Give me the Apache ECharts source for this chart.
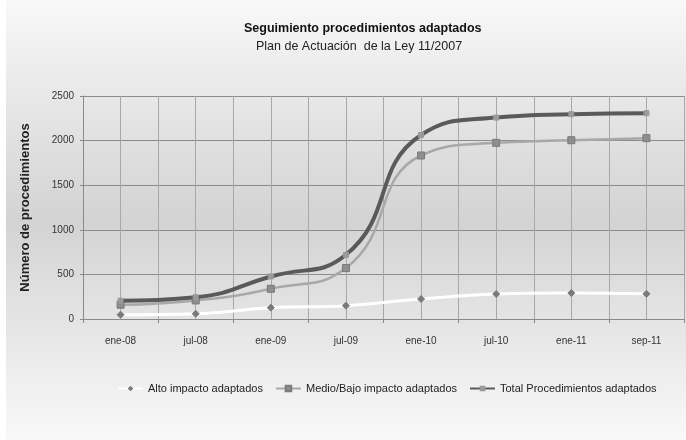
<!DOCTYPE html>
<html><head><meta charset="utf-8">
<script src="https://cdn.jsdelivr.net/npm/echarts@6/dist/echarts.min.js"></script>
<style>html,body{margin:0;padding:0;background:#fff}#c{width:686px;height:440px}</style>
</head><body><div id="c"></div>
<script>
var categories = ['ene-08','jul-08','ene-09','jul-09','ene-10','jul-10','ene-11','sep-11'];
var altoImpacto = [48, 59, 127, 149, 224, 280, 291, 282];
var medioBajo = [160, 208, 339, 571, 1833, 1975, 2004, 2027];
var totalProc = [205, 245, 477, 720, 2063, 2258, 2296, 2307];
var yTicks = [0, 500, 1000, 1500, 2000, 2500];
var halfSlots = ['','','','','','','','','','','','','','','',''];

var font = 'Liberation Sans';
var chart = echarts.init(document.getElementById('c'), null, {renderer:'canvas'});
chart.setOption({
  animation: false,
  backgroundColor: '#ffffff',
  graphic: [{
    type: 'rect', left: 6, top: 0, z: -100, silent: true,
    shape: {width: 680, height: 440},
    style: {fill: new echarts.graphic.LinearGradient(0,0,0,1,[
      {offset:0, color:'#f8f8f8'},
      {offset:0.5, color:'#d3d3d3'},
      {offset:1, color:'#f9f9f9'}
    ])}
  }],
  title: [
    {text: 'Seguimiento procedimientos adaptados', left: 239, top: 17,
     textStyle: {fontFamily: font, fontWeight: 'bold', fontSize: 12.5, color: '#111'}},
    {text: 'Plan de Actuación  de la Ley 11/2007', left: 251, top: 35,
     textStyle: {fontFamily: font, fontWeight: 'normal', fontSize: 12.5, color: '#222'}}
  ],
  legend: {
    left: 112, top: 378, itemGap: 12, itemWidth: 25, itemHeight: 7,
    textStyle: {fontFamily: font, fontSize: 11, color: '#222'},
    data: ['Alto impacto adaptados','Medio/Bajo impacto adaptados','Total Procedimientos adaptados']
  },
  grid: {left: 83, right: 2, top: 96, bottom: 121},
  xAxis: [{
    type: 'category', data: categories, boundaryGap: true,
    axisLine: {lineStyle: {color: '#8a8a8a', width: 1}},
    axisTick: {show: true, length: 4, lineStyle: {color: '#8a8a8a'}},
    axisLabel: {fontFamily: font, fontSize: 10, color: '#333', margin: 17},
    splitLine: {show: false}
  }, {
    type: 'category', data: halfSlots, boundaryGap: true, position: 'bottom',
    axisLine: {show: false}, axisTick: {show: false}, axisLabel: {show: false},
    splitLine: {show: true, lineStyle: {color: '#a8a8a8', width: 1}}
  }],
  yAxis: {
    type: 'value', min: 0, max: 2500, interval: 500,
    name: 'Número de procedimientos', nameLocation: 'middle', nameGap: 51,
    nameTextStyle: {fontFamily: font, fontWeight: 'bold', fontSize: 13, color: '#222'},
    axisLine: {show: true, lineStyle: {color: '#8a8a8a'}},
    axisTick: {show: true, length: 3, lineStyle: {color: '#8a8a8a'}},
    axisLabel: {fontFamily: font, fontSize: 10, color: '#333', margin: 9,
      formatter: function(v){ return yTicks.indexOf(v) >= 0 ? String(v) : ''; }},
    splitLine: {show: true, lineStyle: {color: '#8c8c8c', width: 1}}
  },
  series: [{
    name: 'Alto impacto adaptados', type: 'line', data: altoImpacto, smooth: 0.4,
    symbol: 'diamond', symbolSize: 7, z: 3,
    lineStyle: {color: '#ffffff', width: 3},
    itemStyle: {color: '#7a7a7a', borderColor: '#7a7a7a'}
  }, {
    name: 'Medio/Bajo impacto adaptados', type: 'line', data: medioBajo, smooth: 0.5,
    symbol: 'rect', symbolSize: 7, z: 4,
    lineStyle: {color: '#a8a8a8', width: 2.5},
    itemStyle: {color: '#8e8e8e', borderColor: '#7a7a7a', borderWidth: 1}
  }, {
    name: 'Total Procedimientos adaptados', type: 'line', data: totalProc, smooth: 0.5,
    symbol: 'rect', symbolSize: 5, z: 5,
    lineStyle: {color: '#5a5a5a', width: 4},
    itemStyle: {color: '#9a9a9a', borderColor: '#9a9a9a'}
  }]
});
</script></body></html>
